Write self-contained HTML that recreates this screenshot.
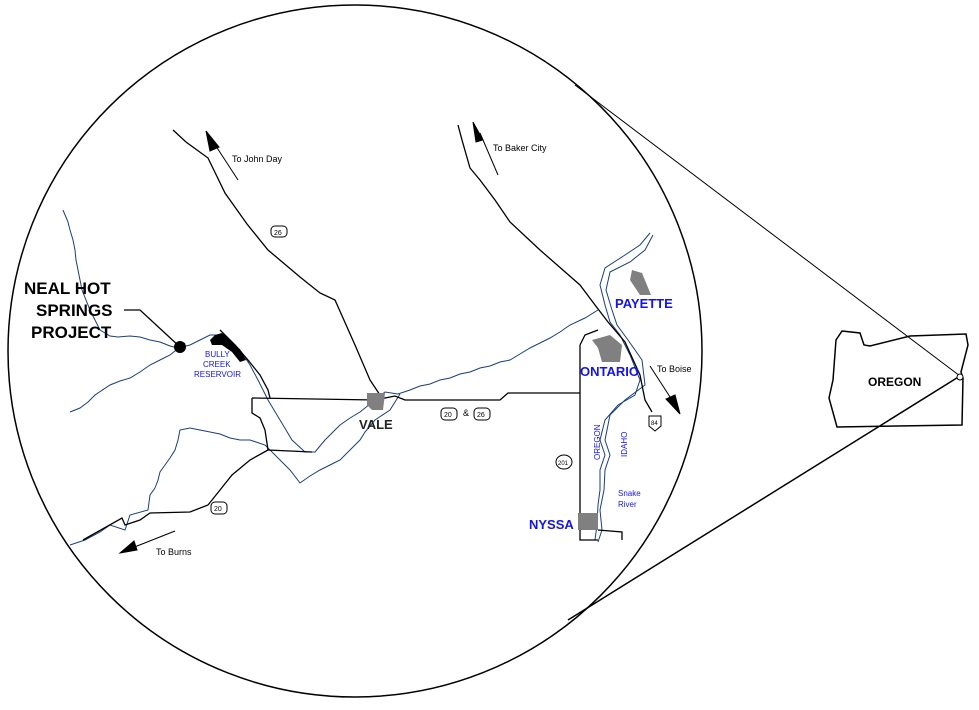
<!DOCTYPE html>
<html><head><meta charset="utf-8"><style>
html,body{margin:0;padding:0;background:#fff;}
svg{display:block}
text{font-family:"Liberation Sans",sans-serif}
</style></head><body>
<svg width="979" height="710" viewBox="0 0 979 710" xmlns="http://www.w3.org/2000/svg">
<rect width="979" height="710" fill="#fff"/>
<ellipse cx="355" cy="351" rx="347" ry="346" fill="none" stroke="#000" stroke-width="1.5"/>
<line x1="575" y1="85" x2="960" y2="376" stroke="#000" stroke-width="1"/>
<line x1="568" y1="620" x2="960" y2="376" stroke="#000" stroke-width="1.5"/>
<path d="M842,331 L860,333 L864,345 L870,346 L910,336 L966,334 L968,345 L961,372 L963,378 L962,425 L837,427 L829,398 L833,380 L836,340 Z" fill="none" stroke="#000" stroke-width="1.5"/>
<circle cx="960" cy="377" r="3" fill="#fff" stroke="#000"/>
<text x="868" y="386" font-size="12" font-weight="bold" fill="#000">OREGON</text>

<g fill="none" stroke="#1a3f7a" stroke-width="1">
<path d="M63,210 L68,222 L70,230 L73,240 L75,250 L76,260 L78,270 L80,280 L82,290 L86,300 L90,310 L95,320 L100,330 L110,336 L118,337 L130,336 L140,337 L150,340 L160,342 L170,346 L178,348 L190,345 L200,340 L210,335 L220,335 L230,340 L240,350 L250,365 L258,380 L264,392 L268,400 L274,410 L280,420 L286,430 L292,440 L305,452 L315,452 L325,440 L333,432 L340,425 L350,418 L360,412 L375,400 L385,392 L398,394 L410,390 L420,386 L430,384 L440,380 L450,378 L460,374 L470,372 L480,368 L490,366 L500,362 L510,360 L520,354 L530,348 L540,343 L550,338 L560,332 L570,325 L585,318 L598,310"/>
<path d="M185,343 L170,355 L160,360 L150,365 L140,372 L130,378 L120,381 L110,385 L95,395 L88,402 L80,408 L70,412"/>
<path d="M400,394 L390,410 L375,420 L365,432 L360,440 L350,450 L340,460 L330,465 L320,470 L310,476 L300,483 L290,470 L280,460 L265,445 L250,440 L240,440 L230,438 L220,434 L210,432 L200,430 L190,428 L180,430 L178,440 L175,450 L170,458 L165,465 L160,472 L158,480 L155,488 L150,495 L148,510 L130,515 L125,530 L110,525 L100,532 L85,540 L70,545"/>
<path d="M650,233 L640,245 L625,255 L605,268 L600,285 L605,305 L610,322 L620,335 L630,355 L640,380 L635,395 L618,405 L605,420 L600,440 L605,455 L600,470 L600,490 L598,505 L597,525 L595,540 L580,540"/>
<path d="M653,235 L645,250 L630,262 L610,272 L606,290 L612,310 L617,325 L628,340 L642,360 L645,385 L625,400 L610,415 L605,440 L610,455 L605,470 L604,490 L600,510 L602,530 L598,542"/>
</g>

<g fill="none" stroke="#000" stroke-width="1.3">
<path d="M173,130 L186,142 L208,158 L225,193 L247,224 L268,250 L300,277 L320,293 L335,300 L355,345 L370,380 L380,395"/>
<path d="M458,125 L462,140 L470,168 L480,180 L495,200 L510,222 L540,250 L580,285 L595,305 L608,322 L625,342 L640,375 L645,400 L652,412"/>
<path d="M252,398 L375,400 L395,396 L405,400 L500,400 L508,393 L580,393"/>
<path d="M252,398 L252,413 L260,418 L265,430 L268,450 L312,452"/>
<path d="M268,450 L250,460 L232,475 L220,490 L208,505 L190,512 L150,513 L140,520 L125,525 L122,518 L83,540"/>
<path d="M580,345 L585,335 L598,330 M580,345 L580,540 L598,540 M598,530 L622,532 L622,540"/>
<path d="M220,330 L235,345 L248,360 L260,375 L268,390 L270,398"/>
</g>
<g stroke="#000" stroke-width="1" fill="#000">
<line x1="238" y1="180" x2="212" y2="140"/><polygon points="206,131 219,147 210,151"/>
<line x1="498" y1="175" x2="480" y2="133"/><polygon points="473,122 483,140 476,142"/>
<line x1="650" y1="366" x2="672" y2="400"/><polygon points="680,414 666,399 675,395"/>
<line x1="175" y1="531" x2="132" y2="548"/><polygon points="120,553 134,541 137,550"/>
</g>
<polyline points="124,310 140,310 180,347" fill="none" stroke="#000" stroke-width="1.3"/>
<circle cx="180" cy="347" r="6" fill="#000"/>
<path d="M210,340 L215,335 L222,333 L230,340 L240,350 L246,360 L240,362 L232,352 L222,345 L212,345 Z" fill="#000"/>
<g fill="#808080">
<polygon points="367,393 385,393 383,410 372,410 367,405"/>
<polygon points="632,270 642,273 651,295 640,295 630,280"/>
<polygon points="592,340 610,335 622,345 620,362 602,362 598,348"/>
<polygon points="578,513 598,513 598,530 578,530"/>
</g>
<g font-weight="bold" fill="#000" font-size="17">
<text x="24" y="294">NEAL HOT</text>
<text x="36" y="316">SPRINGS</text>
<text x="31" y="338">PROJECT</text>
</g>
<text x="359" y="429" font-size="13" font-weight="bold" fill="#222">VALE</text>
<g fill="#1414e6" font-weight="bold" font-size="13">
<text x="615" y="308">PAYETTE</text>
<text x="580" y="376">ONTARIO</text>
<text x="529" y="529">NYSSA</text>
</g>
<g fill="#1414e6" font-size="8">
<text x="205" y="357">BULLY</text>
<text x="203" y="367">CREEK</text>
<text x="194" y="377">RESERVOIR</text>
<text x="618" y="496">Snake</text>
<text x="618" y="507">River</text>
<text transform="translate(600,460) rotate(-90)">OREGON</text>
<text transform="translate(627,457) rotate(-90)">IDAHO</text>
</g>
<g fill="#000" font-size="9">
<text x="232" y="162">To John Day</text>
<text x="493" y="151">To Baker City</text>
<text x="657" y="372">To Boise</text>
<text x="156" y="555">To Burns</text>
<text x="463" y="416">&amp;</text>
</g>
<g fill="#fff" stroke="#000" stroke-width="1" font-size="7">
<rect x="271" y="226" width="16" height="11" rx="4"/><text x="274" y="235" stroke="none" fill="#000">26</text>
<rect x="441" y="408" width="16" height="12" rx="4"/><text x="444" y="417" stroke="none" fill="#000">20</text>
<rect x="474" y="408" width="16" height="12" rx="4"/><text x="477" y="417" stroke="none" fill="#000">26</text>
<rect x="211" y="502" width="16" height="12" rx="4"/><text x="214" y="511" stroke="none" fill="#000">20</text>
<ellipse cx="564" cy="462" rx="8" ry="7"/><text x="558" y="465" stroke="none" fill="#000" font-size="6">201</text>
<path d="M649,416 L661,416 L661,426 L655,431 L649,426 Z"/><text x="651" y="425" stroke="none" fill="#000" font-size="6">84</text>
</g>
</svg>
</body></html>
